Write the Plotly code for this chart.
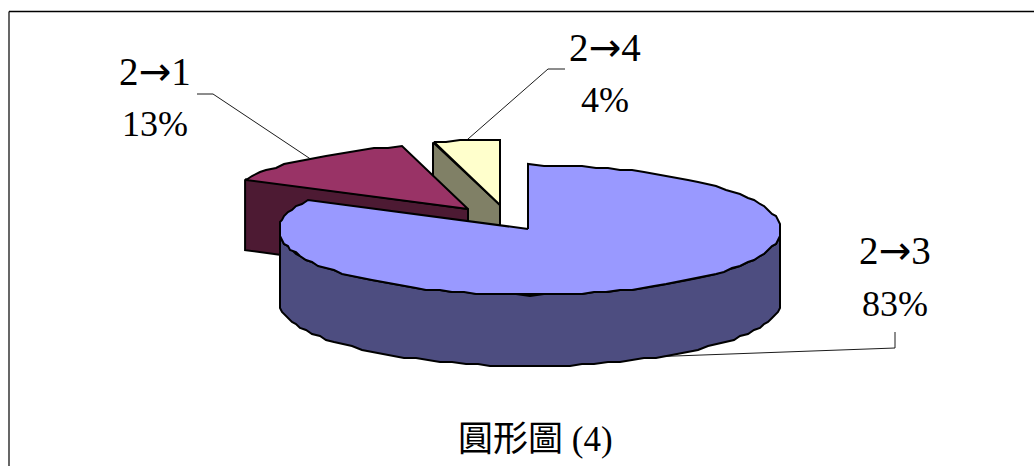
"""3D exploded pie chart, drawn on a pixel-sized cartesian plane."""

import numpy as np
import plotly.graph_objects as go

categories = ["2→3", "2→1", "2→4"]
shares = [82.6, 13.1, 4.3]
percent_labels = ["83%", "13%", "4%"]
chart_title = "圓形圖 (4)"

top_colors = ["#9999FF", "#993366", "#FFFFCC"]
side_colors = ["#4D4D80", "#4D1A33", "#808066"]

WIDTH, HEIGHT = 1034, 466
CX, CY, RX, RY, DEPTH = 530, 230, 251, 65, 71
# apex of each slice; the two small ones are pulled out of the pie
APEX = [(528, 229), (468, 209), (500, 205)]
LABEL_X = [895, 155, 605]
LABEL_Y = [(250, 304), (71, 124), (47, 100)]
ELBOWS = [[(895, 332), (895, 348)], [(197, 94), (213, 94)], [(565, 69), (548, 69)]]
SERIF = "Liberation Serif"


def rim(apex, a0, a1, step=3.0):
    """Points on the rim between clockwise angles a0 and a1 (degrees from 12 o'clock)."""
    n = max(2, int(abs(a1 - a0) / step) + 1)
    t = np.radians(np.linspace(a0, a1, n))
    return apex[0] + RX * np.sin(t), apex[1] - RY * np.cos(t)


def rough(v):
    # the source is a low resolution metafile, so curves come out stepped
    return np.round(np.asarray(v) / 2) * 2


def add_poly(fig, x, y, color):
    fig.add_trace(
        go.Scatter(
            x=list(x) + [x[0]],
            y=list(y) + [y[0]],
            mode="lines",
            fill="toself",
            fillcolor=color,
            line=dict(color="black", width=2),
            hoverinfo="skip",
            showlegend=False,
        )
    )


def add_line(fig, x, y):
    fig.add_trace(
        go.Scatter(
            x=x,
            y=y,
            mode="lines",
            line=dict(color="black", width=0.9),
            hoverinfo="skip",
            showlegend=False,
        )
    )


ends = np.cumsum(shares) / sum(shares) * 360
starts = np.concatenate([[0], ends[:-1]])

fig = go.Figure()

# back to front: 2→4, then 2→1, then the big slice
for i in [2, 1]:
    ax, ay = APEX[i]
    xs, ys = rim((ax, ay), starts[i], ends[i])
    # cut face along the first edge of the slice
    add_poly(
        fig,
        [xs[0], ax, ax, xs[0]],
        [ys[0], ay, ay + DEPTH, ys[0] + DEPTH],
        side_colors[i],
    )
    add_poly(fig, [ax] + list(rough(xs)), [ay] + list(rough(ys)), top_colors[i])

# big slice: wall along the front half of the rim, then the top
wx, wy = rim((CX, CY), 90, 270)
add_poly(
    fig,
    list(rough(wx)) + list(rough(wx[::-1])),
    list(rough(wy)) + list(rough(wy[::-1] + DEPTH)),
    side_colors[0],
)
tx, ty = rim((CX, CY), starts[0], ends[0])
tx = rough(tx)
tx[0] = APEX[0][0]  # the cut edge at 12 o'clock is vertical in the original
add_poly(fig, [APEX[0][0]] + list(tx), [APEX[0][1]] + list(rough(ty)), top_colors[0])

# leader lines end on the rim at each slice's middle angle
for i in range(3):
    mid = (starts[i] + ends[i]) / 2
    centre = (CX, CY) if i == 0 else APEX[i]
    mx, my = rim(centre, mid, mid)
    drop = DEPTH if i == 0 else 0
    add_line(
        fig,
        [p[0] for p in ELBOWS[i]] + [mx[0]],
        [p[1] for p in ELBOWS[i]] + [my[0] + drop],
    )

for i, cat in enumerate(categories):
    # Liberation's arrow is tiny, DejaVu's is nearer the original
    arrow_text = cat.replace("→", "<span style='font-family:DejaVu Sans'>→</span>")
    fig.add_annotation(
        x=LABEL_X[i],
        y=LABEL_Y[i][0],
        text=arrow_text,
        showarrow=False,
        font=dict(family=SERIF, size=39, color="black"),
    )
    fig.add_annotation(
        x=LABEL_X[i],
        y=LABEL_Y[i][1],
        text=percent_labels[i],
        showarrow=False,
        font=dict(family=SERIF, size=36, color="black"),
    )

fig.add_annotation(
    x=535,
    y=439,
    text=chart_title,
    showarrow=False,
    font=dict(family=SERIF + ", Noto Sans CJK TC", size=35, color="black"),
)

# frame of the pasted chart, open at the right and bottom of the image
fig.add_shape(type="line", x0=9, y0=11.5, x1=WIDTH, y1=11.5, line=dict(color="black", width=1.4))
fig.add_shape(type="line", x0=9, y0=11.5, x1=9, y1=HEIGHT, line=dict(color="black", width=1.2))

fig.update_xaxes(range=[0, WIDTH], visible=False, fixedrange=True)
fig.update_yaxes(range=[HEIGHT, 0], visible=False, fixedrange=True)
fig.update_layout(
    width=WIDTH,
    height=HEIGHT,
    margin=dict(l=0, r=0, t=0, b=0),
    paper_bgcolor="white",
    plot_bgcolor="white",
    showlegend=False,
)

fig.write_html(
    "out.html",
    config=dict(displayModeBar=False),
    post_script="document.body.style.margin = '0';",
)
